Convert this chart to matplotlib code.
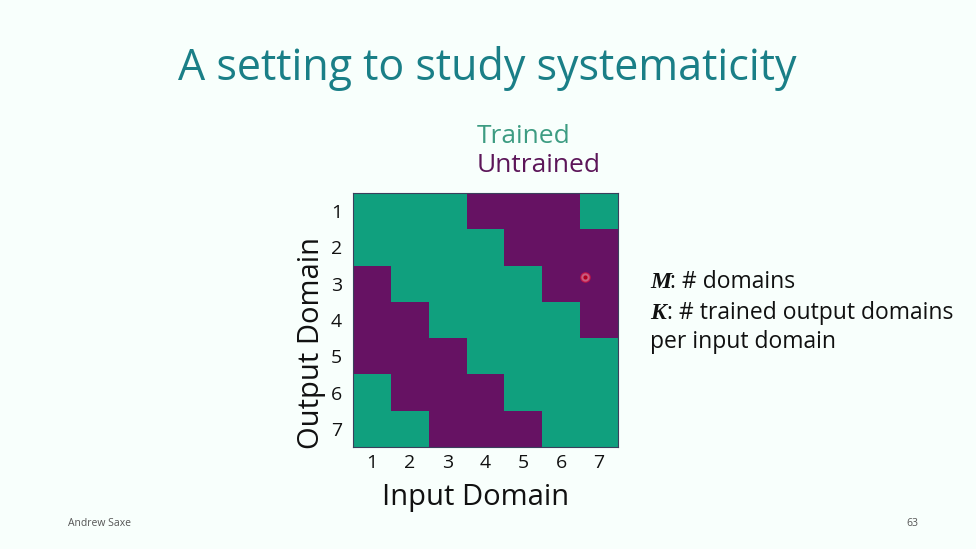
import matplotlib.pyplot as plt
from matplotlib.colors import ListedColormap
import numpy as np

# 1 = trained, 0 = untrained ; rows = output domain 1..7, cols = input domain 1..7
trained = [
    [1, 1, 1, 0, 0, 0, 1],
    [1, 1, 1, 1, 0, 0, 0],
    [0, 1, 1, 1, 1, 0, 0],
    [0, 0, 1, 1, 1, 1, 0],
    [0, 0, 0, 1, 1, 1, 1],
    [1, 0, 0, 0, 1, 1, 1],
    [1, 1, 0, 0, 0, 1, 1],
]
domains = [1, 2, 3, 4, 5, 6, 7]
pointer = (6.63, 2.81)  # laser pointer dot

green = '#10a07e'
purple = '#661263'
bg = '#f8fffc'
W, H = 976, 549

def fx(px):
    return px / W

def fy(py):
    return 1 - py / H

plt.rcParams['font.family'] = ['Open Sans', 'DejaVu Sans']
fig = plt.figure(figsize=(9.76, 5.49), dpi=100, facecolor=bg)

ax = fig.add_axes([fx(353), fy(447), 265 / W, 254 / H])
ax.imshow(np.array(trained), cmap=ListedColormap([purple, green]), aspect='auto',
          extent=(0.5, 7.5, 7.5, 0.5), interpolation='nearest')
ax.scatter([pointer[0]], [pointer[1]], s=45, color='#f08090', alpha=0.7,
           edgecolors='#d01040', linewidths=1.0, zorder=3)
ax.scatter([pointer[0]], [pointer[1]], s=4, color='#b00020', zorder=4)
ax.set_xticks(domains)
ax.set_yticks(domains)
ax.tick_params(length=0, labelsize=14, colors='#111111')
ax.tick_params(axis='x', pad=5)
ax.tick_params(axis='y', pad=8)
for s in ax.spines.values():
    s.set_color('#3b3f5c')
    s.set_linewidth(0.8)

fig.text(fx(476), fy(505), 'Input Domain', ha='center', va='baseline',
         fontsize=21, color='#111111')
fig.text(fx(319), fy(343), 'Output Domain', ha='center', va='baseline',
         rotation=90, rotation_mode='anchor', fontsize=21, color='#111111')

fig.text(fx(487), fy(80), 'A setting to study systematicity', ha='center',
         va='baseline', fontsize=31, color='#1a7f87')
fig.text(fx(477), fy(143), 'Trained', ha='left', va='baseline',
         fontsize=19, color='#3d9c82')
fig.text(fx(477), fy(172), 'Untrained', ha='left', va='baseline',
         fontsize=19, color='#5c1659')

serif = dict(family='Liberation Serif', weight='bold', style='italic', fontsize=17)
fig.text(fx(650), fy(288), 'M', ha='left', va='baseline', color='#111111', **serif)
fig.text(fx(670), fy(288), ': # domains', ha='left', va='baseline',
         fontsize=16.5, color='#111111')
fig.text(fx(650), fy(319), 'K', ha='left', va='baseline', color='#111111', **serif)
fig.text(fx(667), fy(319), ': # trained output domains', ha='left', va='baseline',
         fontsize=16.5, color='#111111')
fig.text(fx(650), fy(348), 'per input domain', ha='left', va='baseline',
         fontsize=16.5, color='#111111')

fig.text(fx(68), fy(526), 'Andrew Saxe', ha='left', va='baseline',
         fontsize=7.5, color='#555555')
fig.text(fx(918), fy(526), '63', ha='right', va='baseline',
         fontsize=7.5, color='#555555')

fig.savefig('out.png', dpi=100, facecolor=bg)
